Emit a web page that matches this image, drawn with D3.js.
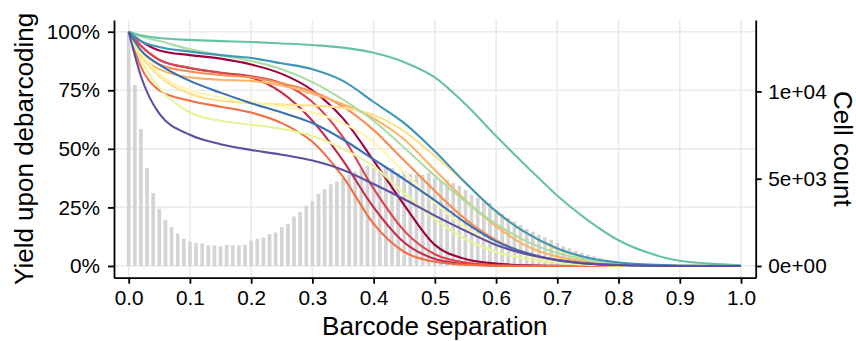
<!DOCTYPE html>
<html>
<head>
<meta charset="utf-8">
<script src="https://cdn.jsdelivr.net/npm/d3@7"></script>
<style>
  body { margin: 0; background: #fff; }
  text { font-family: Arial, "Liberation Sans", Helvetica, sans-serif; }
</style>
</head>
<body>
<div id="chart"></div>
<script>
const width = 856;
const height = 341;
const margin = {top: 20, right: 100.3, bottom: 63.3, left: 114};

// histogram: cells per 0.01 bin of barcode separation (bins 0.00 .. 0.90)
const binStep = 0.01;
const cellCounts = [
  13420, 10370, 7850, 5610, 4170, 3270, 2640, 2230, 1850, 1560,
  1400, 1320, 1290, 1180, 1170, 1130, 1210, 1180, 1190, 1220,
  1450, 1560, 1620, 1830, 1920, 2230, 2420, 2830, 3100, 3450,
  3720, 4130, 4400, 4680, 4840, 5030, 5220, 5410, 5610, 5740,
  5610, 5510, 5610, 5610, 5320, 5450, 5280, 5220, 5220, 5320,
  5050, 4880, 4940, 4750, 4590, 4360, 4080, 3910, 3790, 3620,
  3220, 2990, 2760, 2550, 2360, 2130, 1960, 1790, 1650, 1500,
  1330, 1130, 1020, 870, 760, 650, 550, 440, 360, 300,
  260, 220, 170, 130, 110, 80, 55, 40, 30, 20, 10
];
const binCenters = cellCounts.map((c, i) => +(i * binStep).toFixed(2));

// yield curves (percent), one per sample, sampled at these separations
const separation = [0, 0.02, 0.05, 0.1, 0.15, 0.2, 0.25, 0.3, 0.35, 0.4, 0.45,
                    0.5, 0.55, 0.6, 0.65, 0.7, 0.75, 0.8, 0.85, 0.9, 1.0];

const curveColors = ["#9E0142", "#C42A4B", "#DA4650", "#F46D43", "#F88D51", "#FDB365", "#FEE08B",
                     "#FFF5AE", "#E6F598", "#ABDDA4", "#66C2A5", "#3F96B7", "#3A70B4", "#5E4FA2"];

const yieldCurves = [
  [100, 96, 92, 90, 88.5, 86, 82, 75, 63, 45, 26, 9, 3, 1, 0.3, 0.1, 0, 0, 0, 0, 0],
  [100, 94, 88, 84.5, 82.5, 80.5, 74, 62, 45, 25, 10, 3, 0.8, 0.2, 0, 0, 0, 0, 0, 0, 0],
  [100, 94, 88, 84.5, 82.5, 81, 78, 70, 55, 33, 15, 5, 1.5, 0.4, 0.1, 0, 0, 0, 0, 0, 0],
  [100, 85, 75, 70.5, 68, 65.5, 61, 53, 38, 18, 6, 1.8, 0.5, 0.1, 0, 0, 0, 0, 0, 0, 0],
  [100, 92, 86, 83, 81.5, 80.5, 78, 74.5, 68, 58, 45, 32, 20, 11, 5.5, 2.5, 1, 0.3, 0.1, 0, 0],
  [100, 90, 84, 80.5, 79.5, 79, 77, 73.5, 69, 63, 54, 41, 28, 17, 8.5, 4, 1.7, 0.6, 0.2, 0, 0],
  [100, 90, 81, 73.5, 70.5, 69.5, 69, 68.5, 67.5, 64.5, 57.5, 47, 35.5, 23, 14, 7, 3.2, 1.3, 0.5, 0.2, 0],
  [100, 91, 82, 75, 72, 70, 68, 65.5, 61, 53, 40, 27, 16.5, 9, 4.5, 2, 0.8, 0.3, 0.1, 0, 0],
  [100, 88, 76, 65.5, 62, 60.3, 58.5, 55.5, 50, 42.5, 31, 20, 11.5, 6, 3, 1.3, 0.5, 0.2, 0, 0, 0],
  [100, 98, 96, 92.5, 90, 87.5, 84, 78.5, 71, 62, 50.5, 38.5, 27.5, 18, 10.5, 5.5, 2.5, 1, 0.4, 0.1, 0],
  [100, 98.5, 97.3, 96.5, 96, 95.6, 95, 94.3, 93.2, 91, 87, 80.5, 69, 55.5, 42.5, 30, 19.5, 11, 5.5, 2.2, 0.3],
  [100, 96, 93.5, 91.5, 90, 88.8, 86.5, 84, 79, 70, 61, 49, 35.5, 23.3, 14, 7.5, 3.5, 1.5, 0.6, 0.2, 0],
  [100, 92, 86, 79, 74, 69.5, 65.5, 61, 54, 45.5, 37, 28, 18.5, 10.5, 5.5, 2.5, 1, 0.4, 0.1, 0, 0],
  [100, 81, 65, 56, 52, 49.5, 47.5, 45, 41, 35, 28.5, 21.5, 15, 9, 5, 2.5, 1, 0.4, 0.1, 0, 0]
];

const xTicks = [0, 0.1, 0.2, 0.3, 0.4, 0.5, 0.6, 0.7, 0.8, 0.9, 1.0];
const yTicks = [0, 0.25, 0.5, 0.75, 1];
const countTicks = [0, 5000, 10000];

const svg = d3.select("#chart").append("svg")
  .attr("width", width)
  .attr("height", height);

const x = d3.scaleLinear()
  .domain([-0.024, 1.024])
  .range([margin.left, width - margin.right]);

const y = d3.scaleLinear()
  .domain([-0.05, 1.05])
  .range([height - margin.bottom, margin.top]);

// secondary axis: counts scaled so the tallest bin reaches 100%
const maxCount = d3.max(cellCounts);
const yCount = d3.scaleLinear()
  .domain([-0.05 * maxCount, 1.05 * maxCount])
  .range(y.range());

// grid
const grid = svg.append("g").attr("stroke", "#EBEBEB").attr("stroke-width", 1.6);
grid.selectAll("line.v")
  .data(xTicks)
  .join("line")
  .attr("class", "v")
  .attr("x1", d => x(d)).attr("x2", d => x(d))
  .attr("y1", margin.top).attr("y2", height - margin.bottom);
grid.selectAll("line.h")
  .data(yTicks)
  .join("line")
  .attr("class", "h")
  .attr("x1", margin.left).attr("x2", width - margin.right)
  .attr("y1", d => y(d)).attr("y2", d => y(d));

// histogram bars
const barW = 0.006;
svg.append("g")
  .selectAll("rect")
  .data(cellCounts)
  .join("rect")
  .attr("x", (d, i) => x(binCenters[i] - barW / 2))
  .attr("width", x(barW) - x(0))
  .attr("y", d => yCount(d))
  .attr("height", d => yCount(0) - yCount(d))
  .attr("fill", "#D4D4D4");

// yield curves
const line = d3.line()
  .x(d => x(d[0]))
  .y(d => y(d[1] / 100))
  .curve(d3.curveMonotoneX);

svg.append("g")
  .selectAll("path")
  .data(yieldCurves)
  .join("path")
  .attr("d", vals => line(vals.map((v, i) => [separation[i], v])))
  .attr("fill", "none")
  .attr("stroke", (d, i) => curveColors[i])
  .attr("stroke-width", 2.1)
  .attr("stroke-linejoin", "round");

// axes
const tickFont = "20.8px";
function sci(d) {
  const [m, e] = d3.format(".0e")(d).split("e");
  return `${m}e${e[0]}${e.slice(1).padStart(2, "0")}`;
}

function styleAxis(g) {
  g.selectAll(".domain").attr("stroke", "#000").attr("stroke-width", 1.8);
  g.selectAll(".tick line").attr("stroke", "#000").attr("stroke-width", 1.8);
  g.selectAll(".tick text").attr("fill", "#000").attr("font-size", tickFont)
    .attr("font-family", "Arial, 'Liberation Sans', Helvetica, sans-serif");
}

svg.append("g")
  .attr("transform", `translate(${margin.left},0)`)
  .call(d3.axisLeft(y).tickValues(yTicks).tickFormat(d3.format(".0%"))
    .tickSize(6).tickSizeOuter(0).tickPadding(8))
  .call(styleAxis);

svg.append("g")
  .attr("transform", `translate(0,${height - margin.bottom})`)
  .call(d3.axisBottom(x).tickValues(xTicks).tickFormat(d3.format(".1f"))
    .tickSize(6).tickSizeOuter(0).tickPadding(6.5))
  .call(styleAxis);

svg.append("g")
  .attr("transform", `translate(${width - margin.right},0)`)
  .call(d3.axisRight(yCount).tickValues(countTicks).tickFormat(sci)
    .tickSize(6).tickSizeOuter(0).tickPadding(6.6))
  .call(styleAxis);

// titles
const titleFont = "26px";
svg.append("text")
  .attr("x", (margin.left + width - margin.right) / 2)
  .attr("y", 335)
  .attr("text-anchor", "middle")
  .attr("font-size", titleFont)
  .attr("fill", "#000")
  .text("Barcode separation");

svg.append("text")
  .attr("transform", `translate(33.3,${(margin.top + height - margin.bottom) / 2}) rotate(-90)`)
  .attr("text-anchor", "middle")
  .attr("font-size", titleFont)
  .attr("fill", "#000")
  .text("Yield upon debarcoding");

svg.append("text")
  .attr("transform", `translate(833.5,${(margin.top + height - margin.bottom) / 2}) rotate(90)`)
  .attr("text-anchor", "middle")
  .attr("font-size", titleFont)
  .attr("fill", "#000")
  .text("Cell count");
</script>
</body>
</html>
